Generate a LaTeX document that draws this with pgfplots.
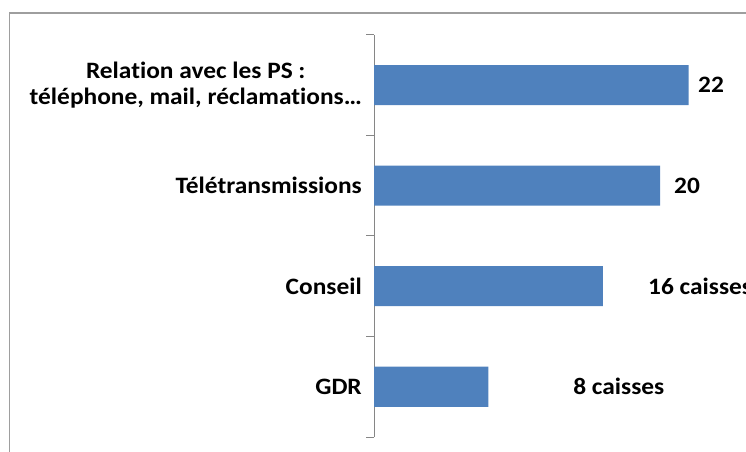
\documentclass[border=0pt]{standalone}
\usepackage{pgfplots}
\pgfplotsset{compat=1.18}
\usepackage{fontspec}
\setmainfont[FakeStretch=1.08, Ligatures=NoCommon]{Carlito}
\definecolor{barblue}{HTML}{4F81BD}
\definecolor{axgray}{HTML}{868686}
\begin{document}
\fontsize{23.5bp}{26.5bp}\selectfont\bfseries
\begin{tikzpicture}
\useasboundingbox (0,0) rectangle (746bp,452bp);
% outer frame, only left and top visible
\draw[axgray!80, line width=1.5bp] (9.5bp,0) -- (9.5bp,439bp) -- (760bp,439bp);
\begin{axis}[
  at={(374bp,15bp)}, anchor=south west,
  scale only axis,
  width=357.5bp, height=402bp,
  xbar, bar width=40bp,
  xmin=0, xmax=25,
  ymin=-0.5, ymax=3.5,
  axis x line=none,
  axis y line*=left,
  axis line style={axgray, line width=1bp},
  ytick={0,1,2,3},
  yticklabels={GDR, Conseil, Télétransmissions, {Relation avec les PS :\\téléphone, mail, réclamations…}},
  yticklabel style={align=center, font=\bfseries, inner sep=0pt, xshift=-12bp},
  major tick length=0pt,
  minor ytick={-0.5,0.5,1.5,2.5,3.5},
  minor tick length=8bp,
  tick align=outside,
  minor tick style={axgray, line width=1bp},
  clip=false,
]
\addplot[fill=barblue, draw=none] coordinates {(8,0) (16,1) (20,2) (22,3)};
\node[anchor=west, inner sep=0pt] at (axis cs:22.66,3) {22};
\node[anchor=west, inner sep=0pt] at (axis cs:20.98,2) {20};
\node[anchor=west, inner sep=0pt] at (axis cs:19.16,1) {16 caisses};
\node[anchor=west, inner sep=0pt] at (axis cs:13.92,0) {8 caisses};
\end{axis}
\end{tikzpicture}
\end{document}
